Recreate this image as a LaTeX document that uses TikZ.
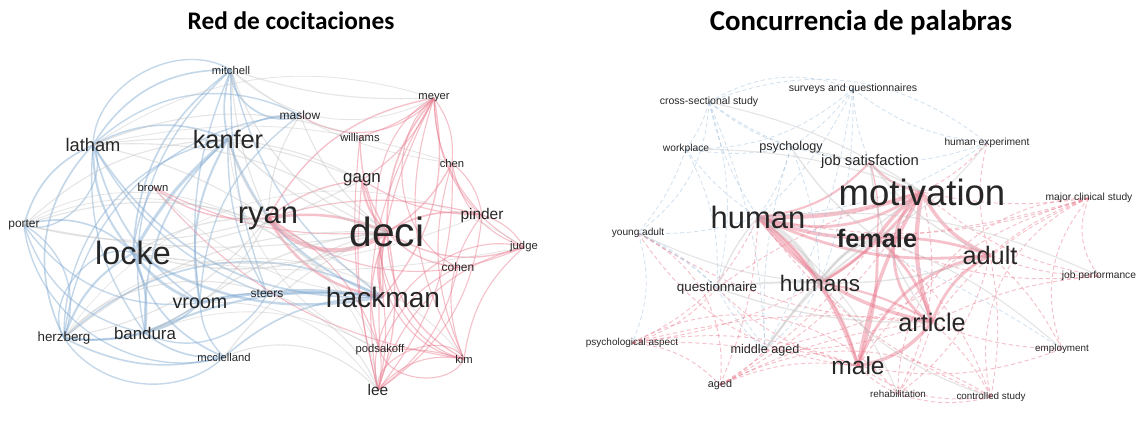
\documentclass[tikz,border=0pt]{standalone}
\usepackage{fontspec}
\setmainfont{Liberation Sans}
\newfontfamily\titlefont{Carlito}
\usepackage{tikz}
\usetikzlibrary{backgrounds}
\definecolor{linkblue}{HTML}{7FA8D0}
\definecolor{linkpink}{HTML}{E8788C}
\definecolor{linkgray}{HTML}{BDBDBD}
\definecolor{labelgray}{HTML}{262626}

\begin{document}
\begin{tikzpicture}[x=0.025cm, y=-0.025cm,
    lbl/.style={font=\fontsize{#1}{#1}\selectfont, text=labelgray, inner sep=0pt},
    ttl/.style={font=\titlefont\bfseries\fontsize{#1}{#1}\selectfont, inner sep=0pt},
    bl/.style={draw=linkblue, opacity=0.45, line width=#1},
    pk/.style={draw=linkpink, opacity=0.45, line width=#1},
    gr/.style={draw=linkgray, opacity=0.4, line width=#1},
    dsh/.style={dash pattern=on 3pt off 2pt},
]
    \useasboundingbox (0,0) rectangle (1148,443);

    % Titles
    \node[ttl=18] (t1) at (291,21) {Red de cocitaciones};
    \node[ttl=20.5] (t2) at (861,23) {Concurrencia de palabras};

    % Co-citation network
    \node[lbl=8] (mitchell) at (231,70) {mitchell};
    \node[lbl=8.5] (maslow) at (300,115) {maslow};
    \node[lbl=8] (meyer) at (434,98) {meyer};
    \node[lbl=13] (latham) at (93,145) {latham};
    \node[lbl=18] (kanfer) at (228,139) {kanfer};
    \node[lbl=8] (williams) at (360,137) {williams};
    \node[lbl=8] (chen) at (452,163) {chen};
    \node[lbl=12] (gagn) at (362,180) {gagn};
    \node[lbl=8] (brown) at (153,187) {brown};
    \node[lbl=11] (pinder) at (482,215) {pinder};
    \node[lbl=8.5] (porter) at (24,225) {porter};
    \node[lbl=22] (ryan) at (268,218) {ryan};
    \node[lbl=29] (deci) at (387,232) {deci};
    \node[lbl=8] (judge) at (524,247) {judge};
    \node[lbl=23] (locke) at (133,253) {locke};
    \node[lbl=8.5] (cohen) at (458,267) {cohen};
    \node[lbl=14] (vroom) at (200,303) {vroom};
    \node[lbl=8.5] (steers) at (267,294) {steers};
    \node[lbl=20] (hackman) at (383,297) {hackman};
    \node[lbl=9.5] (herzberg) at (64,338) {herzberg};
    \node[lbl=12] (bandura) at (145,333) {bandura};
    \node[lbl=8] (mcclelland) at (224,357) {mcclelland};
    \node[lbl=8] (podsakoff) at (380,350) {podsakoff};
    \node[lbl=8] (kim) at (464,359) {kim};
    \node[lbl=11] (lee) at (378,390) {lee};

    % Word co-occurrence network
    \node[lbl=7.5] (crosssec) at (709,102) {cross-sectional study};
    \node[lbl=7.5] (surveys) at (853,89) {surveys and questionnaires};
    \node[lbl=7.3] (workplace) at (686,149) {workplace};
    \node[lbl=9] (psychology) at (791,147) {psychology};
    \node[lbl=10.5] (jobsat) at (870,162) {job satisfaction};
    \node[lbl=7.3] (humanexp) at (987,143) {human experiment};
    \node[lbl=26] (motivation) at (922,192) {motivation};
    \node[lbl=22] (human) at (758,217) {human};
    \node[lbl=18, font=\fontsize{18}{18}\selectfont\bfseries] (female) at (877,238) {female};
    \node[lbl=7.3] (majorclin) at (1089,198) {major clinical study};
    \node[lbl=7.2] (youngadult) at (638,233) {young adult};
    \node[lbl=18] (adult) at (990,255) {adult};
    \node[lbl=7.3] (jobperf) at (1099,276) {job performance};
    \node[lbl=16] (humans) at (820,283) {humans};
    \node[lbl=9.5] (questionnaire) at (717,288) {questionnaire};
    \node[lbl=18] (article) at (932,322) {article};
    \node[lbl=7.1] (psychasp) at (632,343) {psychological aspect};
    \node[lbl=9] (middleaged) at (765,350) {middle aged};
    \node[lbl=7] (employment) at (1062,349) {employment};
    \node[lbl=17.5] (male) at (858,366) {male};
    \node[lbl=7.7] (aged) at (720,385) {aged};
    \node[lbl=7] (rehab) at (898,394) {rehabilitation};
    \node[lbl=7] (controlled) at (991,397) {controlled study};

    \begin{scope}[on background layer]
    % links, co-citation
    \foreach \a/\b/\c/\w in {locke/kanfer/10/2.2, locke/vroom/-15/2, locke/latham/20/1.5,
        locke/mitchell/25/1.2, locke/porter/-30/1.2, locke/bandura/15/1.5, locke/herzberg/-20/1.5,
        locke/mcclelland/-25/1.2, locke/brown/10/1, locke/hackman/-20/1.8, latham/kanfer/25/1.2,
        latham/mitchell/30/1.2, latham/porter/-25/1.2, latham/herzberg/-35/1.2, latham/bandura/-20/1,
        latham/vroom/-20/1.2, latham/hackman/-30/1.2, kanfer/mitchell/15/1.2, kanfer/vroom/-20/1.5,
        kanfer/bandura/-25/1.2, kanfer/maslow/20/1, kanfer/steers/-15/1, kanfer/hackman/-25/1.5,
        kanfer/herzberg/-40/1, vroom/herzberg/20/1.2, vroom/bandura/15/1.2, vroom/porter/30/1,
        vroom/mcclelland/-20/1, vroom/hackman/10/2, vroom/steers/10/1, bandura/herzberg/10/1.2,
        bandura/mcclelland/-20/1.2, herzberg/mcclelland/-20/1.2, herzberg/porter/-40/1,
        mitchell/vroom/-15/1, mitchell/steers/-10/1, mitchell/bandura/-30/1, mitchell/hackman/-20/1,
        maslow/herzberg/-40/1, maslow/vroom/-25/1, porter/mcclelland/-50/1, porter/bandura/-30/1,
        steers/hackman/5/1.2, mcclelland/hackman/20/1.2, bandura/hackman/15/1.5,
        herzberg/hackman/35/1.2, latham/steers/-20/1, porter/latham/-70/1, herzberg/locke/70/1,
        mitchell/maslow/-60/1.2, latham/mitchell/60/1, herzberg/mcclelland/-50/1,
        bandura/steers/-45/1, latham/maslow/35/1}
        \draw[bl=\w] (\a.center) to[bend left=\c] (\b.center);
    \foreach \a/\b/\c/\w in {ryan/deci/-45/3, ryan/deci/15/1.8, deci/hackman/-20/2,
        ryan/hackman/-25/1.8, deci/gagn/20/1.5, ryan/gagn/15/1, deci/meyer/20/1.2,
        deci/williams/15/1, deci/chen/-15/1, deci/pinder/20/1.2, deci/judge/-25/1, deci/cohen/-20/1,
        deci/podsakoff/-20/1, deci/lee/15/1, deci/kim/-30/1, meyer/chen/20/0.8, meyer/lee/-20/0.8,
        meyer/podsakoff/-15/0.8, meyer/kim/-25/0.8, meyer/judge/-30/0.8, meyer/pinder/-20/0.8,
        meyer/gagn/15/0.8, meyer/williams/10/0.8, chen/lee/20/0.8, chen/kim/-20/0.8,
        pinder/lee/25/0.8, judge/kim/-20/0.8, judge/lee/-30/0.8, cohen/lee/20/0.8,
        podsakoff/lee/10/0.8, kim/lee/-30/0.8, podsakoff/kim/10/0.8, hackman/lee/10/0.8,
        williams/lee/-10/0.8, gagn/lee/-10/0.8, ryan/brown/20/1, ryan/podsakoff/20/0.8,
        ryan/meyer/25/1, judge/chen/30/0.8, cohen/podsakoff/-20/0.8, pinder/judge/20/0.8,
        pinder/kim/-30/0.8, gagn/pinder/-15/0.8, chen/pinder/20/0.8, meyer/hackman/25/1,
        gagn/hackman/10/1, brown/deci/-15/0.8, ryan/judge/-30/0.8, deci/kim/-50/0.8,
        lee/kim/80/0.8, lee/judge/60/0.8, meyer/cohen/-60/0.8, meyer/kim/-70/0.8,
        brown/kim/-20/0.8, ryan/pinder/15/0.8, maslow/meyer/-40/0.8, podsakoff/kim/-70/0.8}
        \draw[pk=\w] (\a.center) to[bend left=\c] (\b.center);
    \foreach \a/\b/\c/\w in {locke/deci/-20/1, locke/ryan/15/1, latham/deci/20/0.8,
        kanfer/deci/-15/1, kanfer/ryan/-10/1, vroom/deci/15/1, porter/ryan/-15/0.8,
        herzberg/deci/20/0.8, bandura/ryan/-20/0.8, mcclelland/deci/15/0.8, mitchell/deci/-25/0.8,
        maslow/ryan/-15/0.8, latham/williams/20/0.8, kanfer/gagn/10/0.8, porter/hackman/30/0.8,
        herzberg/lee/60/0.8, mcclelland/lee/35/0.8, steers/deci/15/0.8, latham/gagn/15/0.8,
        porter/deci/-10/0.8, locke/gagn/-10/0.8, mitchell/meyer/-10/0.8, herzberg/kim/50/0.6,
        porter/lee/60/0.6, locke/pinder/-15/0.6, latham/chen/15/0.6, kanfer/podsakoff/-30/0.6,
        vroom/lee/30/0.6, bandura/podsakoff/25/0.6, latham/ryan/10/0.8, porter/kanfer/20/0.8,
        herzberg/ryan/-20/0.8, locke/judge/-10/0.6, brown/hackman/-20/0.6, maslow/deci/-15/0.8,
        mitchell/ryan/-10/0.8, latham/meyer/25/0.6, mitchell/chen/-15/0.6, porter/podsakoff/45/0.6,
        mitchell/meyer/-35/0.6, herzberg/judge/45/0.5}
        \draw[gr=\w] (\a.center) to[bend left=\c] (\b.center);

    % links, co-occurrence
    \foreach \a/\b/\c/\w in {motivation/human/10/3, motivation/female/-10/2.5,
        motivation/adult/-20/2.5, motivation/article/-15/3, motivation/male/-10/2.5,
        motivation/humans/10/2, human/female/-10/2.5, human/male/15/2.5, human/article/-20/2.5,
        human/adult/-15/2, human/humans/10/1.8, female/adult/10/2, female/article/15/2,
        female/male/10/2, adult/article/-20/2, adult/male/-30/2, article/male/20/2.5,
        humans/male/10/1.5, humans/female/-10/1.5, humans/article/10/1.5, jobsat/motivation/-20/1.5,
        jobsat/human/20/1.5, jobsat/female/10/1, human/motivation/-25/2, motivation/article/-60/2}
        \draw[pk=\w] (\a.center) to[bend left=\c] (\b.center);
    \foreach \a/\b/\c in {majorclin/motivation/10, majorclin/adult/-10, majorclin/female/5,
        majorclin/article/-15, majorclin/male/-20, majorclin/jobperf/-30, majorclin/controlled/-40,
        majorclin/human/15, majorclin/employment/-30, psychasp/human/-20, psychasp/male/15,
        psychasp/article/10, psychasp/aged/20, psychasp/questionnaire/-15, psychasp/middleaged/5,
        psychasp/humans/-10, aged/male/15, aged/article/10, aged/human/-10, aged/middleaged/-10,
        aged/female/-10, aged/motivation/-15, controlled/male/20, controlled/article/-10,
        controlled/adult/-10, controlled/human/15, controlled/rehab/15, controlled/female/-15,
        rehab/male/10, rehab/article/-10, rehab/adult/-20, rehab/motivation/-20, jobperf/motivation/15,
        jobperf/adult/10, jobperf/article/-10, jobperf/female/15, employment/article/10,
        employment/male/15, employment/adult/-10, questionnaire/male/-15, questionnaire/motivation/10,
        youngadult/male/-25, youngadult/article/-15, middleaged/article/-10, middleaged/male/10,
        middleaged/adult/-10, humanexp/motivation/10, humanexp/adult/-15, psychasp/rehab/40,
        aged/controlled/30, youngadult/aged/35, majorclin/rehab/-45}
        \draw[pk=0.7, dsh] (\a.center) to[bend left=\c] (\b.center);
    \foreach \a/\b/\c in {crosssec/workplace/10, crosssec/psychology/-10, crosssec/human/-10,
        crosssec/surveys/25, crosssec/youngadult/25, crosssec/questionnaire/15, crosssec/middleaged/10,
        surveys/psychology/10, surveys/humanexp/-15, surveys/human/10, surveys/jobsat/-10,
        surveys/workplace/20, surveys/middleaged/10, workplace/youngadult/10, workplace/human/-10,
        workplace/questionnaire/15, workplace/psychology/-10, psychology/human/10,
        psychology/middleaged/-10, psychology/humans/10, youngadult/questionnaire/10,
        youngadult/human/-10, youngadult/middleaged/15, humanexp/jobsat/10, humanexp/human/15,
        questionnaire/middleaged/-10, middleaged/humans/-10, employment/human/-10, crosssec/jobsat/-15,
        surveys/humans/10, crosssec/humanexp/30, youngadult/psychasp/20}
        \draw[bl=0.6, dsh, opacity=0.35] (\a.center) to[bend left=\c] (\b.center);
    \foreach \a/\b/\c/\w in {humans/human/-20/2.5, questionnaire/human/10/1, questionnaire/humans/5/1.5,
        psychology/motivation/10/1, jobsat/article/-15/1, jobsat/adult/-15/1, psychology/female/-10/1,
        middleaged/female/10/1.5, workplace/motivation/10/0.8, youngadult/humans/-10/0.8,
        jobperf/human/-15/0.8, employment/female/-10/0.8, crosssec/motivation/10/0.8,
        humanexp/female/10/0.8, rehab/human/-15/0.8, controlled/humans/15/0.8, humans/female/20/2,
        middleaged/motivation/10/1, humans/adult/-10/1, questionnaire/article/-10/1}
        \draw[gr=\w] (\a.center) to[bend left=\c] (\b.center);
    \end{scope}
\end{tikzpicture}
\end{document}
